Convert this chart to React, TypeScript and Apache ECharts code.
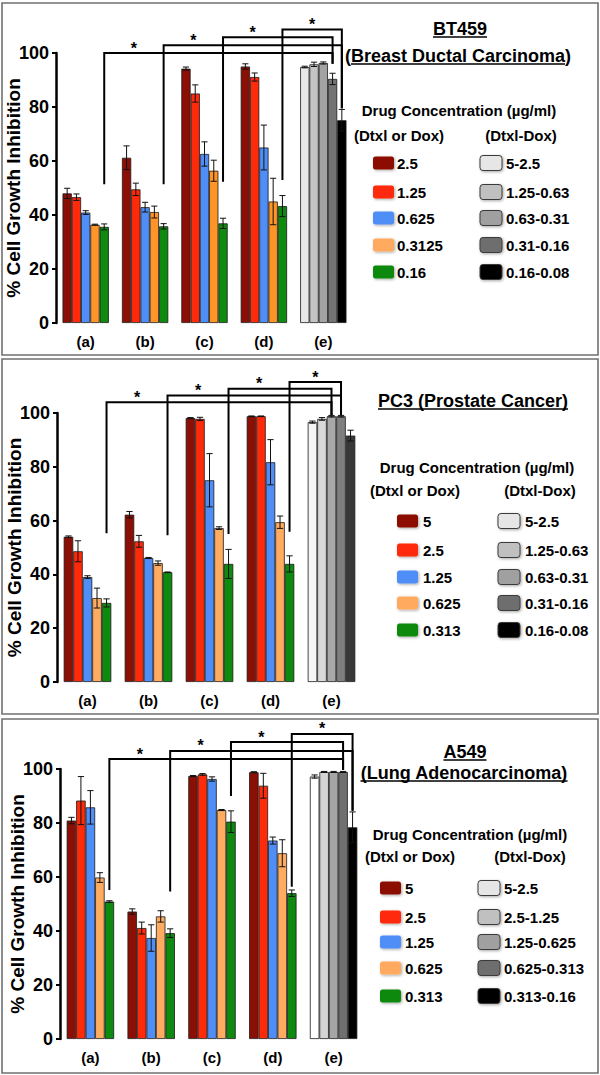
import React, { useEffect, useRef } from "react";
import * as echarts from "echarts";

// ---------- data ----------
const categories = ["(a)", "(b)", "(c)", "(d)", "(e)"];
const yAxisName = "% Cell Growth Inhibition";
const legendHeading = "Drug Concentration (µg/ml)";
const legendSubSingle = "(Dtxl or Dox)";
const legendSubCombo = "(Dtxl-Dox)";

// BT459 (Breast Ductal Carcinoma)
const bt459Title = ["BT459", "(Breast Ductal Carcinoma)"];
const bt459Single = ["2.5", "1.25", "0.625", "0.3125", "0.16"];
const bt459Combo = ["5-2.5", "1.25-0.63", "0.63-0.31", "0.31-0.16", "0.16-0.08"];
const bt459S1 = [48.0, 61.2, 94.2, 95.0, 94.8];
const bt459S2 = [46.6, 49.5, 85.0, 91.1, 95.8];
const bt459S3 = [40.9, 42.9, 62.6, 65.0, 96.3];
const bt459S4 = [36.4, 41.1, 56.4, 45.0, 90.4];
const bt459S5 = [35.6, 35.8, 36.9, 43.3, 75.1];
const bt459E1 = [1.9, 4.4, 0.6, 1.0, 0.3];
const bt459E2 = [1.2, 2.3, 3.2, 1.5, 0.8];
const bt459E3 = [0.7, 1.8, 4.5, 8.3, 0.4];
const bt459E4 = [0.2, 2.2, 3.9, 8.6, 2.1];
const bt459E5 = [1.1, 1.0, 1.9, 3.9, 4.0];

// PC3 (Prostate Cancer)
const pc3Title = ["PC3 (Prostate Cancer)"];
const pc3Single = ["5", "2.5", "1.25", "0.625", "0.313"];
const pc3Combo = ["5-2.5", "1.25-0.63", "0.63-0.31", "0.31-0.16", "0.16-0.08"];
const pc3S1 = [54.0, 62.2, 98.1, 98.8, 96.6];
const pc3S2 = [48.6, 52.3, 97.8, 98.8, 97.8];
const pc3S3 = [39.0, 46.1, 75.0, 81.7, 98.8];
const pc3S4 = [31.2, 44.2, 57.2, 59.4, 98.8];
const pc3S5 = [29.4, 40.8, 43.9, 43.9, 91.6];
const pc3E1 = [0.3, 1.2, 0.2, 0.1, 0.4];
const pc3E2 = [3.9, 2.2, 0.6, 0.1, 0.5];
const pc3E3 = [0.5, 0.2, 9.9, 8.4, 0.3];
const pc3E4 = [3.7, 0.8, 0.5, 2.3, 0.3];
const pc3E5 = [1.5, 0.1, 5.4, 3.0, 2.0];

// A549 (Lung Adenocarcinoma)
const a549Title = ["A549", "(Lung Adenocarcinoma)"];
const a549Single = ["5", "2.5", "1.25", "0.625", "0.313"];
const a549Combo = ["5-2.5", "2.5-1.25", "1.25-0.625", "0.625-0.313", "0.313-0.16"];
const a549S1 = [80.9, 47.2, 97.4, 98.8, 97.2];
const a549S2 = [88.3, 41.1, 98.0, 93.8, 98.9];
const a549S3 = [85.8, 37.4, 96.3, 73.5, 98.9];
const a549S4 = [59.8, 45.4, 84.8, 68.8, 98.9];
const a549S5 = [50.9, 39.2, 80.5, 54.0, 78.4];
const a549E1 = [1.2, 1.0, 0.2, 0.2, 0.6];
const a549E2 = [8.9, 2.2, 0.3, 4.6, 0.2];
const a549E3 = [6.2, 4.9, 0.8, 1.3, 0.2];
const a549E4 = [1.8, 2.1, 0.2, 5.0, 0.2];
const a549E5 = [0.3, 1.6, 4.0, 1.2, 5.7];

// significance brackets (value units): start of left leg, line level, target bar in (e), end of right leg
const bt459BracketStart = [51.4, 51.4, 52.3, 53.0];
const bt459BracketLevel = [100, 102.9, 105.8, 108.7];
const bt459BracketBar = [3, 4, 3, 4];
const bt459BracketEnd = [96, 79.5, 96, 79.5];

const pc3BracketStart = [55.3, 54.6, 55.0, 55.9];
const pc3BracketLevel = [104, 106.5, 109, 111.5];
const pc3BracketBar = [2, 3, 2, 3];
const pc3BracketEnd = [99.3, 99.3, 99.3, 99.3];

const a549BracketStart = [55.2, 54.6, 90.0, 56.4];
const a549BracketLevel = [103.7, 106.7, 110, 113];
const a549BracketBar = [3, 4, 3, 4];
const a549BracketEnd = [99.6, 84.5, 99.6, 84.5];

// ---------- styles / layout ----------
const FONT = '"Liberation Sans", Arial, Helvetica, sans-serif';
const GAP = 0.22;

const PANELS = [
  {
    series: [bt459S1, bt459S2, bt459S3, bt459S4, bt459S5],
    errors: [bt459E1, bt459E2, bt459E3, bt459E4, bt459E5],
    colors: ["#8c0f05", "#ff2a0a", "#4f8ef7", "#ff9526", "#0e8a0e"],
    grays: ["#e8e8e8", "#c4c4c4", "#a3a3a3", "#737373", "#000000"],
    legendColors: ["#8c0f05", "#ff2a0a", "#4f8ef7", "#ffaa5e", "#0e8a0e"],
    legendGrays: ["#e6e6e6", "#c0c0c0", "#a0a0a0", "#6e6e6e", "#000000"],
    single: bt459Single,
    combo: bt459Combo,
    title: bt459Title,
    titlePos: [[460, 29, false], [458, 56, true]] as [number, number, boolean][],
    grid: { left: 56, top: 53, width: 297, height: 270 },
    box: [2, 3, 596, 352],
    bStart: bt459BracketStart,
    bLevel: bt459BracketLevel,
    bBar: bt459BracketBar,
    bEnd: bt459BracketEnd,
    heading: [459, 110],
    subs: [[399, 135], [521, 135]],
    rows: [163, 192, 218, 245, 272],
    col1: [373, 397],
    col2: [480, 506],
  },
  {
    series: [pc3S1, pc3S2, pc3S3, pc3S4, pc3S5],
    errors: [pc3E1, pc3E2, pc3E3, pc3E4, pc3E5],
    colors: ["#8c0f05", "#ff2a0a", "#4f8ef7", "#ffab60", "#0e8a0e"],
    grays: ["#f5f5f5", "#d9d9d9", "#a8a8a8", "#7f7f7f", "#383838"],
    legendColors: ["#8c0f05", "#ff2a0a", "#4f8ef7", "#ffaa5e", "#0e8a0e"],
    legendGrays: ["#e6e6e6", "#c0c0c0", "#a0a0a0", "#6e6e6e", "#000000"],
    single: pc3Single,
    combo: pc3Combo,
    title: pc3Title,
    titlePos: [[473, 401, false]] as [number, number, boolean][],
    grid: { left: 57, top: 413, width: 305, height: 269 },
    box: [2, 359, 596, 355],
    bStart: pc3BracketStart,
    bLevel: pc3BracketLevel,
    bBar: pc3BracketBar,
    bEnd: pc3BracketEnd,
    heading: [477, 467],
    subs: [[415, 490], [540, 490]],
    rows: [521, 550, 577, 603, 630],
    col1: [397, 423],
    col2: [498, 525],
  },
  {
    series: [a549S1, a549S2, a549S3, a549S4, a549S5],
    errors: [a549E1, a549E2, a549E3, a549E4, a549E5],
    colors: ["#8c0f05", "#ff2a0a", "#4f8ef7", "#ffab60", "#0e8a0e"],
    grays: ["#ffffff", "#d4d4d4", "#a6a6a6", "#707070", "#000000"],
    legendColors: ["#8c0f05", "#ff2a0a", "#4f8ef7", "#ffaa5e", "#0e8a0e"],
    legendGrays: ["#e6e6e6", "#c0c0c0", "#a0a0a0", "#6e6e6e", "#000000"],
    single: a549Single,
    combo: a549Combo,
    title: a549Title,
    titlePos: [[465, 752, false], [464, 773, false]] as [number, number, boolean][],
    grid: { left: 60, top: 769, width: 304, height: 270 },
    box: [2, 719, 596, 354],
    bStart: a549BracketStart,
    bLevel: a549BracketLevel,
    bBar: a549BracketBar,
    bEnd: a549BracketEnd,
    heading: [470, 834],
    subs: [[410, 856], [530, 856]],
    rows: [888, 917, 942, 968, 996],
    col1: [380, 405],
    col2: [478, 504],
  },
];

function makeErrorRenderer(k: number) {
  return (params: any, api: any) => {
    const ci = api.value(0);
    const v = api.value(1);
    const e = api.value(2);
    const band = api.size([1, 0])[0];
    const gw = band * (1 - GAP);
    const bw = gw / 5;
    const c = api.coord([ci, v]);
    const x = c[0] - gw / 2 + (k + 0.5) * bw;
    const yt = api.coord([ci, v + e])[1];
    const yb = api.coord([ci, v - e])[1];
    const h = bw * 0.33;
    const st = { stroke: "#111", lineWidth: 1 };
    return {
      type: "group",
      children: [
        { type: "line", shape: { x1: x, y1: yt, x2: x, y2: yb }, style: st },
        { type: "line", shape: { x1: x - h, y1: yt, x2: x + h, y2: yt }, style: st },
        { type: "line", shape: { x1: x - h, y1: yb, x2: x + h, y2: yb }, style: st },
      ],
    };
  };
}

export default function App() {
  const ref = useRef<HTMLDivElement>(null);

  useEffect(() => {
    if (!ref.current) return;
    const chart = echarts.init(ref.current, undefined, { renderer: "svg" });
    const series: any[] = [];
    PANELS.forEach((p, pi) => {
      for (let k = 0; k < 5; k++) {
        series.push({
          type: "bar",
          name: p.single[k],
          xAxisIndex: pi,
          yAxisIndex: pi,
          barGap: "0%",
          barCategoryGap: GAP * 100 + "%",
          itemStyle: { borderColor: "#1a1a1a", borderWidth: 0.8 },
          data: p.series[k].map((v, ci) => ({
            value: v,
            itemStyle: { color: ci === 4 ? p.grays[k] : p.colors[k] },
          })),
        });
      }
      for (let k = 0; k < 5; k++) {
        series.push({
          type: "custom",
          xAxisIndex: pi,
          yAxisIndex: pi,
          z: 5,
          encode: { x: 0, y: 1 },
          data: p.series[k].map((v, ci) => [ci, v, p.errors[k][ci]]),
          renderItem: makeErrorRenderer(k),
        });
      }
    });

    chart.setOption({
      animation: false,
      backgroundColor: "#ffffff",
      grid: PANELS.map((p) => ({ ...p.grid, containLabel: false, outerBoundsMode: "none" })),
      xAxis: PANELS.map((p, i) => ({
        type: "category",
        gridIndex: i,
        data: categories,
        axisLine: { show: false },
        axisTick: { show: false },
        axisLabel: { color: "#000", fontWeight: "bold", fontSize: 15, fontFamily: FONT, margin: 11 },
      })),
      yAxis: PANELS.map((p, i) => ({
        type: "value",
        gridIndex: i,
        min: 0,
        max: 100,
        interval: 20,
        name: yAxisName,
        nameLocation: "middle",
        nameGap: 33,
        nameMoveOverlap: false,
        nameTextStyle: { color: "#000", fontWeight: "bold", fontSize: 19, fontFamily: FONT },
        axisLine: { show: true, lineStyle: { color: "#000", width: 2.5 } },
        axisTick: { show: true, length: 4, lineStyle: { color: "#000", width: 2 } },
        axisLabel: { color: "#000", fontWeight: "bold", fontSize: 18, fontFamily: FONT, margin: 7 },
        splitLine: { show: false },
      })),
      series,
    });

    const canvas = document.createElement("canvas").getContext("2d")!;
    const measure = (t: string, f: string) => {
      canvas.font = f;
      return canvas.measureText(t).width;
    };

    const g: any[] = [];
    PANELS.forEach((p, pi) => {
      // border
      g.push({
        type: "rect",
        shape: { x: p.box[0], y: p.box[1], width: p.box[2], height: p.box[3] },
        style: { fill: "none", stroke: "#707070", lineWidth: 1.6 },
        z: 1,
      });
      const px = (ci: number, v: number) => chart.convertToPixel({ gridIndex: pi } as any, [ci, v]) as number[];
      const band = px(1, 0)[0] - px(0, 0)[0];
      const gw = band * (1 - GAP);
      const bw = gw / 5;
      const barX = (ci: number, k: number) => px(ci, 0)[0] - gw / 2 + (k + 0.5) * bw;

      const legs: number[] = [];
      const levels: number[] = [];
      let lastRight = 0;
      for (let i = 0; i < 4; i++) {
        const xl = barX(i, 4);
        const yb = px(i, p.bStart[i])[1];
        const yl = px(0, p.bLevel[i])[1];
        const xr = barX(4, p.bBar[i]);
        const yr = px(4, p.bEnd[i])[1];
        legs.push(xl);
        levels.push(yl);
        if (i === 3) lastRight = xr;
        g.push({
          type: "polyline",
          shape: { points: [[xl, yb], [xl, yl], [xr, yl], [xr, yr]] },
          style: { stroke: "#000", lineWidth: 2, fill: "none" },
          z: 10,
        });
      }
      for (let i = 0; i < 4; i++) {
        const x2 = i < 3 ? legs[i + 1] : lastRight;
        g.push({
          type: "text",
          x: (legs[i] + x2) / 2,
          y: levels[i] - 5,
          style: { text: "*", font: `bold 16px ${FONT}`, fill: "#000", align: "center", verticalAlign: "middle" },
          z: 10,
        });
      }

      // titles
      const tFont = `bold 18px ${FONT}`;
      p.title.forEach((t, ti) => {
        const [tx, ty, trim] = p.titlePos[ti];
        g.push({
          type: "text",
          x: tx,
          y: ty,
          style: { text: t, font: tFont, fill: "#000", align: "center", verticalAlign: "middle" },
          z: 10,
        });
        const w = measure(t, tFont);
        let x0 = tx - w / 2;
        let x1 = tx + w / 2;
        if (trim) {
          x0 += measure(t[0], tFont);
          x1 -= measure(t[t.length - 1], tFont);
        }
        g.push({
          type: "line",
          shape: { x1: x0, y1: ty + 8, x2: x1, y2: ty + 8 },
          style: { stroke: "#000", lineWidth: 1.3 },
          z: 10,
        });
      });

      const lFont = `bold 15px ${FONT}`;
      g.push({
        type: "text",
        x: p.heading[0],
        y: p.heading[1],
        style: { text: legendHeading, font: lFont, fill: "#000", align: "center", verticalAlign: "middle" },
      });
      [legendSubSingle, legendSubCombo].forEach((s, si) => {
        g.push({
          type: "text",
          x: p.subs[si][0],
          y: p.subs[si][1],
          style: { text: s, font: lFont, fill: "#000", align: "center", verticalAlign: "middle" },
        });
      });
      p.rows.forEach((ry, r) => {
        g.push({
          type: "rect",
          shape: { x: p.col1[0], y: ry - 6.5, width: 21, height: 13, r: 2.5 },
          style: {
            fill: p.legendColors[r],
            shadowBlur: 3,
            shadowColor: "rgba(0,0,0,0.35)",
            shadowOffsetX: 1,
            shadowOffsetY: 1,
          },
        });
        g.push({
          type: "text",
          x: p.col1[1],
          y: ry,
          style: { text: p.single[r], font: lFont, fill: "#000", align: "left", verticalAlign: "middle" },
        });
        g.push({
          type: "rect",
          shape: { x: p.col2[0], y: ry - 7.5, width: 22, height: 15, r: 3 },
          style: {
            fill: p.legendGrays[r],
            stroke: "#3a3a3a",
            lineWidth: 1,
            shadowBlur: 3,
            shadowColor: "rgba(0,0,0,0.35)",
            shadowOffsetX: 1,
            shadowOffsetY: 1,
          },
        });
        g.push({
          type: "text",
          x: p.col2[1],
          y: ry,
          style: { text: p.combo[r], font: lFont, fill: "#000", align: "left", verticalAlign: "middle" },
        });
      });
    });

    chart.setOption({ graphic: g });

    return () => chart.dispose();
  }, []);

  return (
    <div
      ref={ref}
      style={{ position: "absolute", left: 0, top: 0, width: 600, height: 1075, background: "#fff" }}
    />
  );
}
